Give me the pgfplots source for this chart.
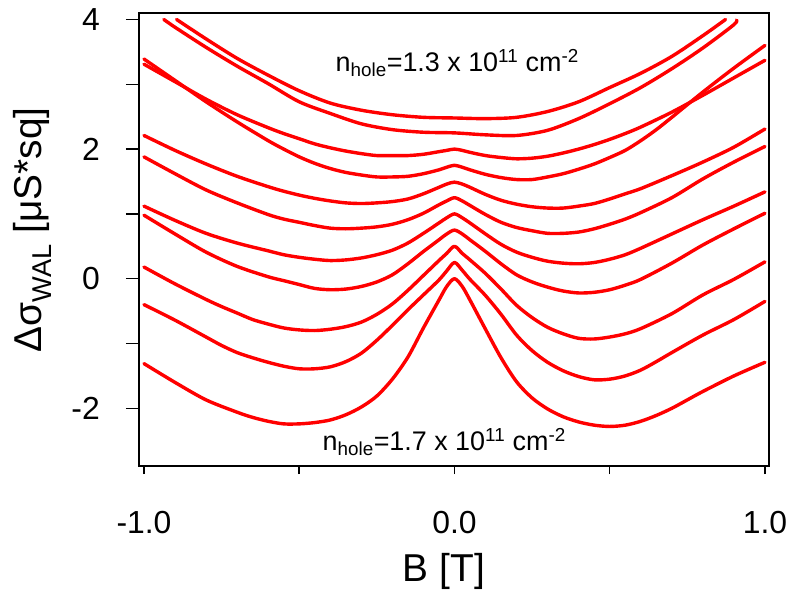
\documentclass[border=0pt]{standalone}
\usepackage{fontspec}
\setmainfont{Liberation Sans}
\usepackage{pgfplots}
\pgfplotsset{compat=1.18}
\begin{document}
\begin{tikzpicture}
\useasboundingbox (0,0) rectangle (793bp,599bp);
% axis B: x ticks and x label
\begin{axis}[
  at={(139bp,133bp)}, anchor=south west,
  scale only axis, width=630bp, height=453bp,
  xmin=-1.016, xmax=1.013, ymin=-2.89, ymax=4.1,
  axis line style={line width=1.5bp},
  tick style={line width=1.5bp, black},
  tick align=outside,
  major tick length=8bp, minor tick length=8bp,
  xtick={-1,0,1}, minor xtick={-0.5,0.5},
  xticklabels={-1.0,0.0,1.0},
  xtick pos=bottom,
  ytick=\empty,
  xticklabel style={font=\fontsize{32}{38}\selectfont, inner sep=0pt, anchor=north},
  xticklabel shift=37bp,
  xlabel={B [T]},
  xlabel style={font=\fontsize{39}{46}\selectfont, inner sep=0pt, at={(rel axis cs:0.4841,-0.2539)}, anchor=base},
]
\end{axis}
% axis A: curves, y ticks, y label
\begin{axis}[
  at={(139bp,133bp)}, anchor=south west,
  scale only axis, width=630bp, height=453bp,
  xmin=-1.016, xmax=1.013, ymin=-2.89, ymax=4.1,
  axis line style={line width=1.5bp},
  tick style={line width=1.5bp, black},
  tick align=outside,
  major tick length=13bp, minor tick length=13bp,
  xtick=\empty,
  ytick={-2,0,2,4}, minor ytick={-1,1,3},
  yticklabels={-2,0,2,4},
  ytick pos=left,
  yticklabel style={font=\fontsize{32}{38}\selectfont, inner sep=0pt, anchor=east},
  yticklabel shift=26bp,
  ylabel={Δσ\textsubscript{WAL} [μS*sq]},
  ylabel style={font=\fontsize{39}{46}\selectfont, inner sep=0pt, at={(rel axis cs:-0.15476,0.79249)}, anchor=base east},
  cycle list={{red, solid, no markers}},
  every axis plot post/.append style={red, solid, line width=3.4bp, line join=round, line cap=round, smooth, no markers},
]
% curve 1 (n = 1.3e11)
\addplot coordinates {(-0.895,4.0) (-0.8,3.70) (-0.7,3.40) (-0.6,3.14) (-0.5,2.90) (-0.4,2.71) (-0.3,2.60) (-0.2,2.53) (-0.1,2.49) (0,2.48) (0.1,2.47) (0.2,2.49) (0.3,2.58) (0.4,2.73) (0.5,2.95) (0.6,3.17) (0.7,3.43) (0.8,3.75) (0.873,4.0)};
% curve 2
\addplot coordinates {(-0.936,4.0) (-0.9,3.88) (-0.8,3.57) (-0.7,3.28) (-0.6,3.01) (-0.5,2.73) (-0.4,2.55) (-0.3,2.39) (-0.2,2.30) (-0.1,2.26) (0,2.25) (0.1,2.22) (0.2,2.21) (0.3,2.29) (0.4,2.47) (0.5,2.70) (0.6,2.95) (0.7,3.24) (0.8,3.56) (0.9,3.92) (0.908,3.99)};
% curve 3
\addplot coordinates {(-1,3.31) (-0.9,3.04) (-0.8,2.77) (-0.7,2.53) (-0.6,2.33) (-0.55,2.24) (-0.5,2.16) (-0.45,2.08) (-0.4,2.02) (-0.35,1.97) (-0.3,1.93) (-0.25,1.90) (-0.2,1.90) (-0.15,1.90) (-0.1,1.92) (-0.05,1.96) (-0.025,1.98) (0,2.0) (0.025,1.98) (0.05,1.95) (0.1,1.90) (0.15,1.87) (0.2,1.85) (0.25,1.86) (0.3,1.89) (0.35,1.94) (0.4,2.00) (0.45,2.07) (0.5,2.15) (0.55,2.24) (0.6,2.34) (0.7,2.57) (0.8,2.83) (0.9,3.10) (1,3.37)};
% curve 4
\addplot coordinates {(-1,3.39) (-0.9,3.06) (-0.8,2.73) (-0.7,2.42) (-0.6,2.13) (-0.55,2.00) (-0.5,1.88) (-0.45,1.78) (-0.4,1.70) (-0.35,1.64) (-0.3,1.60) (-0.25,1.57) (-0.2,1.57) (-0.15,1.58) (-0.1,1.62) (-0.05,1.68) (-0.025,1.72) (0,1.75) (0.025,1.72) (0.05,1.68) (0.1,1.61) (0.15,1.56) (0.2,1.53) (0.25,1.53) (0.3,1.57) (0.35,1.62) (0.4,1.69) (0.45,1.77) (0.5,1.87) (0.55,1.98) (0.6,2.13) (0.65,2.30) (0.7,2.49) (0.8,2.88) (0.9,3.25) (1,3.60)};
% curve 5
\addplot coordinates {(-1,2.21) (-0.9,1.98) (-0.8,1.77) (-0.7,1.58) (-0.6,1.42) (-0.55,1.35) (-0.5,1.29) (-0.45,1.24) (-0.4,1.20) (-0.35,1.17) (-0.3,1.16) (-0.25,1.17) (-0.2,1.19) (-0.15,1.23) (-0.1,1.31) (-0.05,1.41) (-0.025,1.46) (0,1.49) (0.025,1.46) (0.05,1.41) (0.1,1.30) (0.15,1.21) (0.2,1.15) (0.25,1.11) (0.3,1.09) (0.35,1.09) (0.4,1.12) (0.45,1.16) (0.5,1.23) (0.55,1.31) (0.6,1.39) (0.7,1.59) (0.8,1.80) (0.9,2.03) (1,2.31)};
% curve 6
\addplot coordinates {(-1,1.88) (-0.9,1.62) (-0.8,1.37) (-0.7,1.17) (-0.6,0.99) (-0.55,0.92) (-0.5,0.87) (-0.45,0.82) (-0.4,0.78) (-0.35,0.77) (-0.3,0.78) (-0.25,0.80) (-0.2,0.84) (-0.15,0.91) (-0.1,1.01) (-0.05,1.14) (-0.025,1.20) (0,1.25) (0.025,1.20) (0.05,1.13) (0.1,0.99) (0.15,0.87) (0.2,0.79) (0.25,0.74) (0.3,0.70) (0.35,0.70) (0.4,0.72) (0.45,0.77) (0.5,0.84) (0.55,0.92) (0.6,1.02) (0.7,1.25) (0.8,1.54) (0.9,1.80) (1,2.04)};
% curve 7
\addplot coordinates {(-1,1.12) (-0.9,0.90) (-0.8,0.70) (-0.7,0.55) (-0.6,0.43) (-0.55,0.37) (-0.5,0.33) (-0.45,0.30) (-0.4,0.28) (-0.35,0.29) (-0.3,0.32) (-0.25,0.37) (-0.2,0.44) (-0.15,0.55) (-0.1,0.70) (-0.05,0.86) (-0.025,0.94) (0,1.0) (0.025,0.94) (0.05,0.86) (0.1,0.69) (0.15,0.53) (0.2,0.41) (0.25,0.33) (0.3,0.27) (0.35,0.24) (0.4,0.23) (0.45,0.25) (0.5,0.30) (0.55,0.37) (0.6,0.47) (0.7,0.69) (0.8,0.91) (0.9,1.12) (1,1.34)};
% curve 8
\addplot coordinates {(-1,0.98) (-0.9,0.69) (-0.8,0.41) (-0.7,0.19) (-0.6,0.03) (-0.55,-0.03) (-0.5,-0.09) (-0.45,-0.15) (-0.4,-0.17) (-0.35,-0.16) (-0.3,-0.12) (-0.25,-0.05) (-0.2,0.06) (-0.15,0.23) (-0.1,0.42) (-0.05,0.60) (-0.025,0.69) (0,0.75) (0.025,0.69) (0.05,0.60) (0.1,0.42) (0.15,0.23) (0.2,0.06) (0.25,-0.05) (0.3,-0.13) (0.35,-0.19) (0.4,-0.22) (0.45,-0.21) (0.5,-0.17) (0.55,-0.10) (0.6,-0.01) (0.7,0.24) (0.8,0.52) (0.9,0.77) (1,1.01)};
% curve 9
\addplot coordinates {(-1,0.18) (-0.9,-0.08) (-0.8,-0.32) (-0.75,-0.43) (-0.7,-0.53) (-0.65,-0.63) (-0.6,-0.70) (-0.55,-0.76) (-0.5,-0.79) (-0.45,-0.80) (-0.4,-0.78) (-0.35,-0.74) (-0.3,-0.67) (-0.25,-0.55) (-0.2,-0.39) (-0.15,-0.18) (-0.1,0.05) (-0.05,0.28) (-0.025,0.39) (0,0.5) (0.025,0.39) (0.05,0.29) (0.1,0.08) (0.15,-0.16) (0.2,-0.41) (0.25,-0.60) (0.3,-0.75) (0.35,-0.85) (0.4,-0.92) (0.45,-0.93) (0.5,-0.90) (0.55,-0.85) (0.6,-0.77) (0.7,-0.54) (0.8,-0.25) (0.9,-0.01) (1,0.26)};
% curve 10
\addplot coordinates {(-1,-0.40) (-0.9,-0.64) (-0.8,-0.90) (-0.75,-1.03) (-0.7,-1.14) (-0.65,-1.22) (-0.6,-1.29) (-0.55,-1.35) (-0.5,-1.39) (-0.45,-1.39) (-0.4,-1.36) (-0.35,-1.28) (-0.3,-1.15) (-0.25,-0.95) (-0.2,-0.72) (-0.15,-0.48) (-0.1,-0.25) (-0.05,-0.02) (-0.025,0.12) (0,0.25) (0.025,0.13) (0.05,-0.01) (0.1,-0.26) (0.15,-0.55) (0.2,-0.87) (0.25,-1.11) (0.3,-1.29) (0.35,-1.42) (0.4,-1.51) (0.45,-1.56) (0.5,-1.55) (0.55,-1.50) (0.6,-1.41) (0.65,-1.28) (0.7,-1.14) (0.8,-0.87) (0.9,-0.63) (1,-0.35)};
% curve 11 (n = 1.7e11)
\addplot coordinates {(-1,-1.31) (-0.9,-1.60) (-0.8,-1.87) (-0.7,-2.06) (-0.65,-2.14) (-0.6,-2.20) (-0.55,-2.24) (-0.5,-2.24) (-0.45,-2.22) (-0.4,-2.18) (-0.35,-2.10) (-0.3,-1.98) (-0.25,-1.81) (-0.2,-1.55) (-0.15,-1.21) (-0.1,-0.76) (-0.05,-0.33) (-0.025,-0.12) (0,0.0) (0.025,-0.12) (0.05,-0.33) (0.1,-0.78) (0.15,-1.22) (0.2,-1.59) (0.25,-1.84) (0.3,-2.01) (0.35,-2.13) (0.4,-2.21) (0.45,-2.26) (0.5,-2.28) (0.55,-2.26) (0.6,-2.20) (0.65,-2.11) (0.7,-2.00) (0.75,-1.87) (0.8,-1.74) (0.9,-1.50) (1,-1.29)};
\node[anchor=base west, inner sep=0pt, font=\fontsize{27}{32}\selectfont] at (axis cs:-0.383,3.2) {n\textsubscript{hole}=1.3 x 10\textsuperscript{11} cm\textsuperscript{-2}};
\node[anchor=base west, inner sep=0pt, font=\fontsize{27}{32}\selectfont] at (axis cs:-0.425,-2.65) {n\textsubscript{hole}=1.7 x 10\textsuperscript{11} cm\textsuperscript{-2}};
\end{axis}
\end{tikzpicture}
\end{document}
